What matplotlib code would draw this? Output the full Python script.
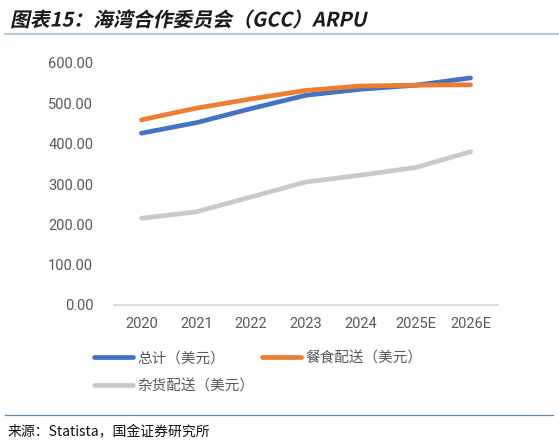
import matplotlib
matplotlib.use("Agg")
import matplotlib.pyplot as plt
from matplotlib.lines import Line2D
from matplotlib.patheffects import AbstractPathEffect
from matplotlib.transforms import Affine2D

# ---- data ----
years = ["2020", "2021", "2022", "2023", "2024", "2025E", "2026E"]
total = [426, 452, 487, 520, 535, 545, 563]
food = [459, 488, 511, 532, 543, 545, 546]
grocery = [215, 231, 268, 305, 322, 341, 380]
series_labels = ["总计（美元）", "餐食配送（美元）", "杂货配送（美元）"]
yticks = [0, 100, 200, 300, 400, 500, 600]

CJK = ["Noto Sans CJK SC", "DejaVu Sans"]
plt.rcParams["font.family"] = CJK


class Italic(AbstractPathEffect):
    def __init__(self, deg=12):
        super().__init__()
        self.deg = deg

    def draw_path(self, renderer, gc, tpath, affine, rgbFace=None):
        renderer.draw_path(gc, tpath, Affine2D().skew_deg(self.deg, 0) + affine, rgbFace)


W, H = 559, 446
fig = plt.figure(figsize=(W / 100, H / 100), dpi=100)
fig.patch.set_facecolor("white")

ax = fig.add_axes([114 / W, (H - 305) / H, 384 / W, 242 / H])
x = list(range(len(years)))
lw = 3.4
l1, = ax.plot(x, total, color="#4472C4", lw=lw, solid_capstyle="round", solid_joinstyle="round")
l2, = ax.plot(x, food, color="#ED7D31", lw=lw, solid_capstyle="round", solid_joinstyle="round")
l3, = ax.plot(x, grocery, color="#C9C9C9", lw=lw, solid_capstyle="round", solid_joinstyle="round")
l2.set_zorder(3)

ax.set_xlim(-0.5, len(years) - 0.5)
ax.set_ylim(0, 600)
ax.set_yticks(yticks)
ax.set_yticklabels([f"{v:.2f}" for v in yticks], fontfamily="Roboto", fontsize=10.5, color="#595959")
ax.set_xticks(x)
ax.set_xticklabels(years, fontfamily="Roboto", fontsize=10.5, color="#595959")
ax.tick_params(axis="y", length=0, pad=15)
ax.tick_params(axis="x", length=0, pad=9)
for s in ["top", "right", "left"]:
    ax.spines[s].set_visible(False)
ax.spines["bottom"].set_color("#D9D9D9")
ax.spines["bottom"].set_linewidth(1.3)
ax.set_facecolor("white")

# legend
handles = [Line2D([0], [0], color=l.get_color(), lw=lw, solid_capstyle="round") for l in (l1, l3, l2)]
labels = [series_labels[0], series_labels[2], series_labels[1]]
leg = fig.legend(handles, labels, loc="upper left", bbox_to_anchor=(94 / W, 1 - 351 / H),
                 ncol=2, frameon=False, fontsize=10.5, handlelength=2.7, handletextpad=0.25,
                 columnspacing=0.55, labelspacing=0.95, borderpad=0, borderaxespad=0)
for t in leg.get_texts():
    t.set_color("#595959")

# title
fig.text(10 / W, 1 - 20 / H, "图表15：海湾合作委员会（GCC）ARPU", fontsize=14.3, fontweight="bold",
         color="#1a1a1a", ha="left", va="center", path_effects=[Italic(12)])
fig.add_artist(Line2D([5 / W, 1], [1 - 33.5 / H, 1 - 33.5 / H], color="#B7CAD6", lw=1.6,
                      transform=fig.transFigure))

# footer
fig.add_artist(Line2D([5 / W, 553 / W], [1 - 415 / H, 1 - 415 / H], color="#5E8FAA", lw=0.9,
                      transform=fig.transFigure))
fig.text(8 / W, 1 - 432 / H, "来源：Statista，国金证券研究所", fontsize=10, color="#111111",
         ha="left", va="center")

fig.savefig("out.png", dpi=100, facecolor="white")
